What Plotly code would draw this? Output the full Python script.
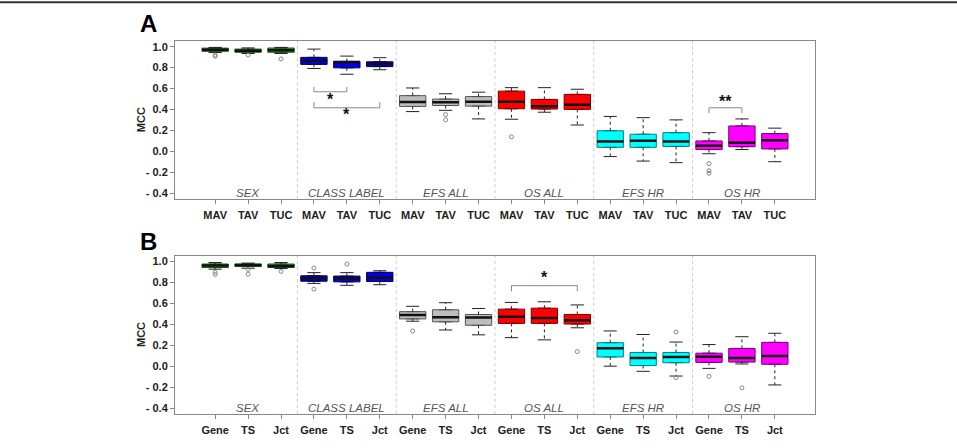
import plotly.graph_objects as go

groups = ["SEX", "CLASS LABEL", "EFS ALL", "OS ALL", "EFS HR", "OS HR"]
fills = ["#2eb82e", "#0000e0", "#bdbdbd", "#ff0000", "#00ffff", "#ff00ff"]
edges = ["#145214", "#00005a", "#555555", "#7a0000", "#008080", "#7a007a"]
labels_A = ["MAV", "TAV", "TUC"]
labels_B = ["Gene", "TS", "Jct"]

# Panel A
A_q1 = [0.956, 0.947, 0.947, 0.831, 0.798, 0.810, 0.430, 0.439, 0.433, 0.408, 0.405, 0.402, 0.040, 0.040, 0.049, 0.019, 0.046, 0.025]
A_med = [0.971, 0.962, 0.966, 0.865, 0.853, 0.834, 0.472, 0.469, 0.475, 0.475, 0.433, 0.445, 0.095, 0.104, 0.095, 0.055, 0.083, 0.107]
A_q3 = [0.986, 0.977, 0.987, 0.898, 0.859, 0.856, 0.533, 0.500, 0.524, 0.576, 0.497, 0.545, 0.198, 0.165, 0.180, 0.101, 0.244, 0.171]
A_lo = [0.944, 0.935, 0.935, 0.792, 0.737, 0.780, 0.381, 0.393, 0.311, 0.308, 0.375, 0.253, -0.048, -0.091, -0.106, -0.021, 0.019, -0.097]
A_hi = [0.993, 0.988, 0.993, 0.977, 0.910, 0.895, 0.606, 0.551, 0.566, 0.609, 0.609, 0.594, 0.335, 0.323, 0.302, 0.180, 0.311, 0.223]
A_out = [[0.92, 0.91], [0.92], [0.883], [], [], [], [], [0.353, 0.302], [], [0.140], [], [], [], [], [], [-0.115, -0.182, -0.207], [], []]

# Panel B
B_q1 = [0.9425, 0.952, 0.9425, 0.812, 0.806, 0.809, 0.4525, 0.425, 0.392, 0.410, 0.410, 0.404, 0.090, 0.008, 0.035, 0.038, 0.041, 0.020]
B_med = [0.961, 0.967, 0.958, 0.840, 0.837, 0.846, 0.489, 0.468, 0.465, 0.474, 0.462, 0.440, 0.174, 0.081, 0.090, 0.093, 0.081, 0.099]
B_q3 = [0.976, 0.976, 0.976, 0.864, 0.861, 0.897, 0.522, 0.540, 0.495, 0.546, 0.555, 0.495, 0.226, 0.132, 0.132, 0.126, 0.171, 0.229]
B_lo = [0.927, 0.936, 0.933, 0.791, 0.773, 0.779, 0.431, 0.347, 0.301, 0.274, 0.253, 0.368, 0.002, -0.047, -0.092, -0.019, 0.023, -0.177]
B_hi = [0.990, 0.985, 0.990, 0.894, 0.894, 0.912, 0.573, 0.607, 0.552, 0.610, 0.616, 0.586, 0.338, 0.304, 0.232, 0.208, 0.283, 0.316]
B_out = [[0.897, 0.876], [0.924, 0.879], [0.906], [0.939, 0.737], [0.976], [], [0.338], [], [], [], [], [0.141], [], [], [0.328, -0.107], [-0.095], [-0.204], []]

# significance brackets: (panel, from box, to box, bar y, tip y, label, label y)
brackets = [
    ("A", 4, 5, 0.57, 0.615, "*", 0.50),
    ("A", 4, 6, 0.417, 0.472, "*", 0.356),
    ("A", 16, 17, 0.417, 0.366, "**", 0.478),
    ("B", 10, 12, 0.770, 0.716, "*", 0.846),
]

y_ticks = [-0.4, -0.2, 0.0, 0.2, 0.4, 0.6, 0.8, 1.0]
y_ticktext = ["- 0.4", "- 0.2", "0.0", "0.2", "0.4", "0.6", "0.8", "1.0"]

BW = 0.8
fig = go.Figure()

panels = [
    ("A", "x", "y", A_q1, A_med, A_q3, A_lo, A_hi, A_out),
    ("B", "x2", "y2", B_q1, B_med, B_q3, B_lo, B_hi, B_out),
]

for name, xa, ya, q1, med, q3, lo, hi, outs in panels:
    for i in range(18):
        pos = i + 1
        g = i // 3
        # whiskers (dotted)
        fig.add_trace(go.Scatter(x=[pos, pos, None, pos, pos], y=[q3[i], hi[i], None, q1[i], lo[i]],
                                 mode="lines", line=dict(color="#222", width=1, dash="dot"),
                                 xaxis=xa, yaxis=ya, showlegend=False, hoverinfo="skip"))
        # caps
        fig.add_trace(go.Scatter(x=[pos - BW / 4, pos + BW / 4, None, pos - BW / 4, pos + BW / 4],
                                 y=[hi[i], hi[i], None, lo[i], lo[i]],
                                 mode="lines", line=dict(color="#222", width=1),
                                 xaxis=xa, yaxis=ya, showlegend=False, hoverinfo="skip"))
        # box
        fig.add_trace(go.Box(x=[pos], q1=[q1[i]], median=[med[i]], q3=[q3[i]],
                             lowerfence=[q1[i]], upperfence=[q3[i]], width=BW,
                             fillcolor=fills[g], line=dict(color=edges[g], width=1),
                             boxpoints=False, xaxis=xa, yaxis=ya, showlegend=False))
        # median
        fig.add_trace(go.Scatter(x=[pos - BW / 2, pos + BW / 2], y=[med[i], med[i]],
                                 mode="lines", line=dict(color="#111", width=2.5),
                                 xaxis=xa, yaxis=ya, showlegend=False, hoverinfo="skip"))
        # outliers
        if outs[i]:
            fig.add_trace(go.Scatter(x=[pos] * len(outs[i]), y=outs[i], mode="markers",
                                     marker=dict(symbol="circle-open", size=4, color="#888", line=dict(width=1)),
                                     xaxis=xa, yaxis=ya, showlegend=False, hoverinfo="skip"))

    # group labels
    for g, gname in enumerate(groups):
        fig.add_annotation(x=3 * g + 2, y=-0.40, xref=xa, yref=ya, text="<i>" + gname + "</i>",
                           showarrow=False, xanchor="center", yanchor="middle",
                           font=dict(family="Liberation Sans, Arial", size=11.5, color="#555"))
    # separators
    for g in range(1, 6):
        fig.add_shape(type="line", x0=3 * g + 0.5, x1=3 * g + 0.5, y0=0, y1=1,
                      xref=xa, yref=ya + " domain", line=dict(color="#cccccc", width=1, dash="dot"))

# brackets
for panel, b0, b1, ybar, ytip, lab, ylab in brackets:
    xa, ya = ("x", "y") if panel == "A" else ("x2", "y2")
    fig.add_trace(go.Scatter(x=[b0, b0, b1, b1], y=[ytip, ybar, ybar, ytip], mode="lines",
                             line=dict(color="#888", width=1), xaxis=xa, yaxis=ya,
                             showlegend=False, hoverinfo="skip"))
    fig.add_annotation(x=(b0 + b1) / 2, y=ylab, xref=xa, yref=ya, text="<b>" + lab + "</b>",
                       showarrow=False, xanchor="center", yanchor="middle",
                       font=dict(family="Liberation Sans, Arial", size=16, color="#111"))

tickfont = dict(family="Liberation Sans, Arial", size=11, color="#222", weight="bold")
xcommon = dict(range=[-0.22, 19.22], tickvals=list(range(1, 19)), showline=True, mirror=True,
               linecolor="#888", linewidth=1, ticks="outside", ticklen=4, tickcolor="#888",
               showgrid=False, zeroline=False, tickfont=tickfont, ticklabelstandoff=2)
ycommon = dict(range=[-0.454, 1.054], tickvals=y_ticks, ticktext=y_ticktext, showline=True, mirror=True,
               linecolor="#888", linewidth=1, ticks="outside", ticklen=4, tickcolor="#888",
               showgrid=False, zeroline=False, tickfont=tickfont)

fig.update_layout(
    width=957, height=448,
    margin=dict(l=175, r=142, t=41, b=20),
    plot_bgcolor="white", paper_bgcolor="white",
    xaxis=dict(xcommon, domain=[0, 1], anchor="y", ticktext=labels_A * 6),
    yaxis=dict(ycommon, domain=[0.576, 1], anchor="x"),
    xaxis2=dict(xcommon, domain=[0, 1], anchor="y2", ticktext=labels_B * 6),
    yaxis2=dict(ycommon, domain=[0, 0.424], anchor="x2"),
)

for lab, yp in [("A", 1.0465), ("B", 0.4625)]:
    fig.add_annotation(x=-0.042, y=yp, xref="paper", yref="paper", text="<b>" + lab + "</b>",
                       showarrow=False, xanchor="center", yanchor="middle",
                       font=dict(family="Liberation Sans, Arial", size=24, color="#000"))
for yp in [0.788, 0.212]:
    fig.add_annotation(x=-0.053, y=yp, xref="paper", yref="paper", text="<b>MCC</b>", textangle=-90,
                       showarrow=False, xanchor="center", yanchor="middle",
                       font=dict(family="Liberation Sans, Arial", size=11, color="#222"))

# outer frame line at the top of the figure
fig.add_shape(type="line", xref="paper", yref="paper", x0=-0.3, x1=1.25, y0=1.104, y1=1.104,
              line=dict(color="#333", width=2))

fig.write_html("out.html")
